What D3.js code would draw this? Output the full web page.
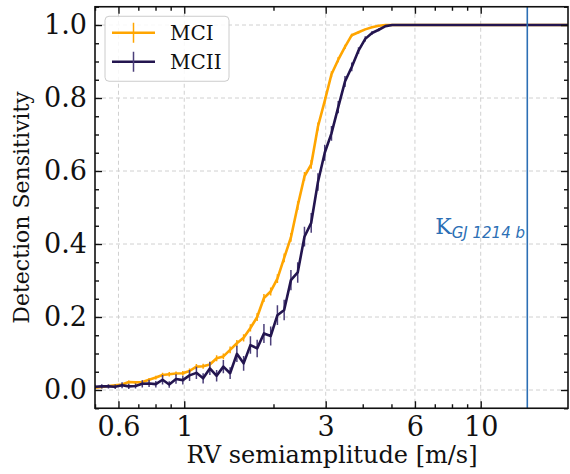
<!DOCTYPE html>
<html>
<head>
<meta charset="utf-8">
<script src="https://cdn.jsdelivr.net/npm/d3@7"></script>
<style>
  body { margin: 0; background: #fff; }
  svg { display: block; }
  text { font-family: "DejaVu Serif", serif; fill: #111; }
</style>
</head>
<body>
<svg width="570" height="474"></svg>
<script>
// RV semiamplitude grid [m/s], log spaced
const kValues = [0.500, 0.527, 0.555, 0.585, 0.617, 0.650, 0.685, 0.722, 0.761, 0.802,
  0.845, 0.890, 0.938, 0.989, 1.042, 1.099, 1.158, 1.220, 1.286, 1.355,
  1.428, 1.505, 1.586, 1.672, 1.762, 1.857, 1.957, 2.062, 2.173, 2.290,
  2.414, 2.544, 2.681, 2.825, 2.978, 3.138, 3.307, 3.485, 3.673, 3.871,
  4.079, 4.299, 4.531, 4.775, 5.032, 5.303, 5.589, 5.890, 6.207, 6.541,
  6.894, 7.265, 7.656, 8.069, 8.503, 8.961, 9.445, 9.954, 10.49, 11.05,
  11.65, 12.28, 12.94, 13.64, 14.37, 15.15, 15.96, 16.82, 17.73, 18.68, 19.69];

// detection sensitivity, MCI
const mci = [0.006, 0.008, 0.011, 0.013, 0.015, 0.022, 0.021, 0.022, 0.028, 0.034,
  0.041, 0.043, 0.045, 0.046, 0.052, 0.064, 0.065, 0.070, 0.087, 0.092,
  0.110, 0.128, 0.143, 0.170, 0.200, 0.252, 0.270, 0.305, 0.362, 0.418,
  0.505, 0.585, 0.618, 0.722, 0.792, 0.865, 0.905, 0.940, 0.972, 0.980,
  0.988, 0.994, 0.998, 1, 1, 1, 1, 1, 1, 1,
  1, 1, 1, 1, 1, 1, 1, 1, 1, 1,
  1, 1, 1, 1, 1, 1, 1, 1, 1, 1, 1];
const mciErr = [0.003, 0.003, 0.003, 0.003, 0.004, 0.004, 0.004, 0.004, 0.005, 0.005,
  0.006, 0.006, 0.006, 0.006, 0.007, 0.007, 0.007, 0.008, 0.008, 0.008,
  0.009, 0.009, 0.010, 0.010, 0.011, 0.011, 0.011, 0.012, 0.012, 0.012,
  0.012, 0.012, 0.012, 0.011, 0.010, 0.008, 0.007, 0.006, 0.004, 0.003,
  0.002, 0.002, 0.001, 0, 0, 0, 0, 0, 0, 0,
  0, 0, 0, 0, 0, 0, 0, 0, 0, 0,
  0, 0, 0, 0, 0, 0, 0, 0, 0, 0, 0];

// detection sensitivity, MCII
const mcii = [0.009, 0.010, 0.010, 0.009, 0.013, 0.010, 0.011, 0.017, 0.018, 0.016,
  0.028, 0.015, 0.030, 0.027, 0.040, 0.047, 0.032, 0.059, 0.039, 0.064,
  0.046, 0.099, 0.073, 0.123, 0.114, 0.155, 0.148, 0.205, 0.219, 0.301,
  0.322, 0.420, 0.458, 0.570, 0.650, 0.703, 0.775, 0.845, 0.885, 0.930,
  0.962, 0.978, 0.987, 0.997, 1, 1, 1, 1, 1, 1,
  1, 1, 1, 1, 1, 1, 1, 1, 1, 1,
  1, 1, 1, 1, 1, 1, 1, 1, 1, 1, 1];
const mciiErr = [0.006, 0.006, 0.006, 0.006, 0.008, 0.007, 0.007, 0.010, 0.010, 0.009,
  0.013, 0.009, 0.013, 0.012, 0.015, 0.017, 0.014, 0.018, 0.016, 0.018,
  0.016, 0.022, 0.020, 0.024, 0.024, 0.026, 0.026, 0.027, 0.028, 0.028,
  0.028, 0.027, 0.027, 0.024, 0.022, 0.020, 0.017, 0.015, 0.012, 0.009,
  0.007, 0.005, 0.004, 0.002, 0, 0, 0, 0, 0, 0,
  0, 0, 0, 0, 0, 0, 0, 0, 0, 0,
  0, 0, 0, 0, 0, 0, 0, 0, 0, 0, 0];

const kPlanet = 14.36; // K of GJ 1214 b
const xTicks = [0.6, 1, 3, 6, 10];
const xMinor = [0.5, 0.7, 0.8, 0.9, 2, 4, 5, 7, 8, 9];
const yTicks = [0, 0.2, 0.4, 0.6, 0.8, 1.0];
const yMinor = [-0.05, 0.05, 0.1, 0.15, 0.25, 0.3, 0.35, 0.45, 0.5, 0.55,
  0.65, 0.7, 0.75, 0.85, 0.9, 0.95, 1.05];

const series = [
  {name: 'MCI', y: mci, err: mciErr, color: '#ffa500', errColor: '#ffa500'},
  {name: 'MCII', y: mcii, err: mciiErr, color: '#23154f', errColor: '#4b3f7a'}
];

const svg = d3.select('svg');
const margin = {top: 6.75, right: 2, bottom: 65.75, left: 95};
const width = 570 - margin.left - margin.right;
const height = 474 - margin.top - margin.bottom;
const g = svg.append('g')
  .attr('transform', `translate(${margin.left},${margin.top})`);

const x = d3.scaleLog().domain([0.5, 19.7]).range([0, width]);
const y = d3.scaleLinear().domain([-0.05, 1.05]).range([height, 0]);

// grid
g.append('g').selectAll('line')
  .data(xTicks)
  .enter().append('line')
    .attr('x1', d => x(d)).attr('x2', d => x(d))
    .attr('y1', 0).attr('y2', height)
    .attr('stroke', '#d0d0d0').attr('stroke-width', 1)
    .attr('stroke-dasharray', '4,3');
g.append('g').selectAll('line')
  .data(yTicks)
  .enter().append('line')
    .attr('x1', 0).attr('x2', width)
    .attr('y1', d => y(d)).attr('y2', d => y(d))
    .attr('stroke', '#d0d0d0').attr('stroke-width', 1)
    .attr('stroke-dasharray', '4,3');

svg.append('clipPath').attr('id', 'clip')
  .append('rect').attr('width', width).attr('height', height);
const plot = g.append('g').attr('clip-path', 'url(#clip)');

const line = d3.line()
  .x((d, i) => x(kValues[i]))
  .y(d => y(d));

series.forEach(s => {
  plot.append('g').selectAll('line')
    .data(s.y)
    .enter().append('line')
      .attr('x1', (d, i) => x(kValues[i])).attr('x2', (d, i) => x(kValues[i]))
      .attr('y1', (d, i) => y(d - s.err[i])).attr('y2', (d, i) => y(d + s.err[i]))
      .attr('stroke', s.errColor).attr('stroke-width', 1.5);
  plot.append('path')
    .datum(s.y)
    .attr('fill', 'none')
    .attr('stroke', s.color)
    .attr('stroke-width', 2.6)
    .attr('stroke-linejoin', 'round')
    .attr('d', line);
});

// planet K line and label
plot.append('line')
  .attr('x1', x(kPlanet)).attr('x2', x(kPlanet))
  .attr('y1', 0).attr('y2', height)
  .attr('stroke', '#2c6fb5').attr('stroke-width', 1.6);

const lbl = g.append('text')
  .attr('x', x(kPlanet) - 92)
  .attr('y', y(0.428))
  .style('fill', '#2c6fb5')
  .style('font-size', '22px');
lbl.append('tspan').text('K');
lbl.append('tspan')
  .attr('dy', 4)
  .style('font-family', '"DejaVu Sans", sans-serif')
  .style('font-style', 'italic')
  .style('font-size', '15px')
  .style('fill', '#2c6fb5')
  .text('GJ 1214 b');

// axes with inward ticks
const axisStyle = sel => {
  sel.select('.domain').remove();
  sel.selectAll('line').attr('stroke', '#111').attr('stroke-width', 1.4);
};
const tickText = sel => sel.selectAll('text')
  .style('font-size', '27px')
  .style('font-family', '"DejaVu Serif", serif')
  .attr('fill', '#111');

g.append('g')
  .attr('transform', `translate(0,${height})`)
  .call(d3.axisBottom(x).tickValues(xTicks).tickFormat(d3.format('')).tickSize(-7).tickPadding(9))
  .call(axisStyle)
  .call(tickText);
g.append('g')
  .attr('transform', `translate(0,${height})`)
  .call(d3.axisBottom(x).tickValues(xMinor).tickFormat('').tickSize(-4))
  .call(axisStyle);
g.append('g')
  .call(d3.axisTop(x).tickValues(xTicks).tickFormat('').tickSize(-7))
  .call(axisStyle);
g.append('g')
  .call(d3.axisTop(x).tickValues(xMinor).tickFormat('').tickSize(-4))
  .call(axisStyle);
g.append('g')
  .call(d3.axisLeft(y).tickValues(yTicks).tickFormat(d3.format('.1f')).tickSize(-7).tickPadding(8))
  .call(axisStyle)
  .call(tickText);
g.append('g')
  .call(d3.axisLeft(y).tickValues(yMinor).tickFormat('').tickSize(-4))
  .call(axisStyle);
g.append('g')
  .attr('transform', `translate(${width},0)`)
  .call(d3.axisRight(y).tickValues(yTicks).tickFormat('').tickSize(-7))
  .call(axisStyle);
g.append('g')
  .attr('transform', `translate(${width},0)`)
  .call(d3.axisRight(y).tickValues(yMinor).tickFormat('').tickSize(-4))
  .call(axisStyle);

g.append('rect')
  .attr('width', width).attr('height', height)
  .attr('fill', 'none').attr('stroke', '#111').attr('stroke-width', 1.6);

// axis labels
svg.append('text')
  .attr('x', 332)
  .attr('y', 463)
  .attr('text-anchor', 'middle')
  .style('font-size', '24px')
  .text('RV semiamplitude [m/s]');
svg.append('text')
  .attr('transform', `translate(29,${margin.top + height / 2}) rotate(-90)`)
  .attr('text-anchor', 'middle')
  .style('font-size', '22px')
  .text('Detection Sensitivity');

// legend
const legend = g.append('g').attr('transform', 'translate(10,9.5)');
legend.append('rect')
  .attr('width', 124).attr('height', 65).attr('rx', 4)
  .attr('fill', 'white').attr('fill-opacity', 0.85)
  .attr('stroke', '#cccccc').attr('stroke-width', 1);
series.forEach((s, i) => {
  const row = legend.append('g').attr('transform', `translate(0,${16.5 + i * 29})`);
  row.append('line')
    .attr('x1', 7).attr('x2', 50).attr('y1', 0).attr('y2', 0)
    .attr('stroke', s.color).attr('stroke-width', 2.6);
  row.append('line')
    .attr('x1', 28.5).attr('x2', 28.5).attr('y1', -10).attr('y2', 10)
    .attr('stroke', s.errColor).attr('stroke-width', 1.5);
  row.append('text')
    .attr('x', 65).attr('y', 7)
    .style('font-size', '20px')
    .text(s.name);
});
</script>
</body>
</html>
